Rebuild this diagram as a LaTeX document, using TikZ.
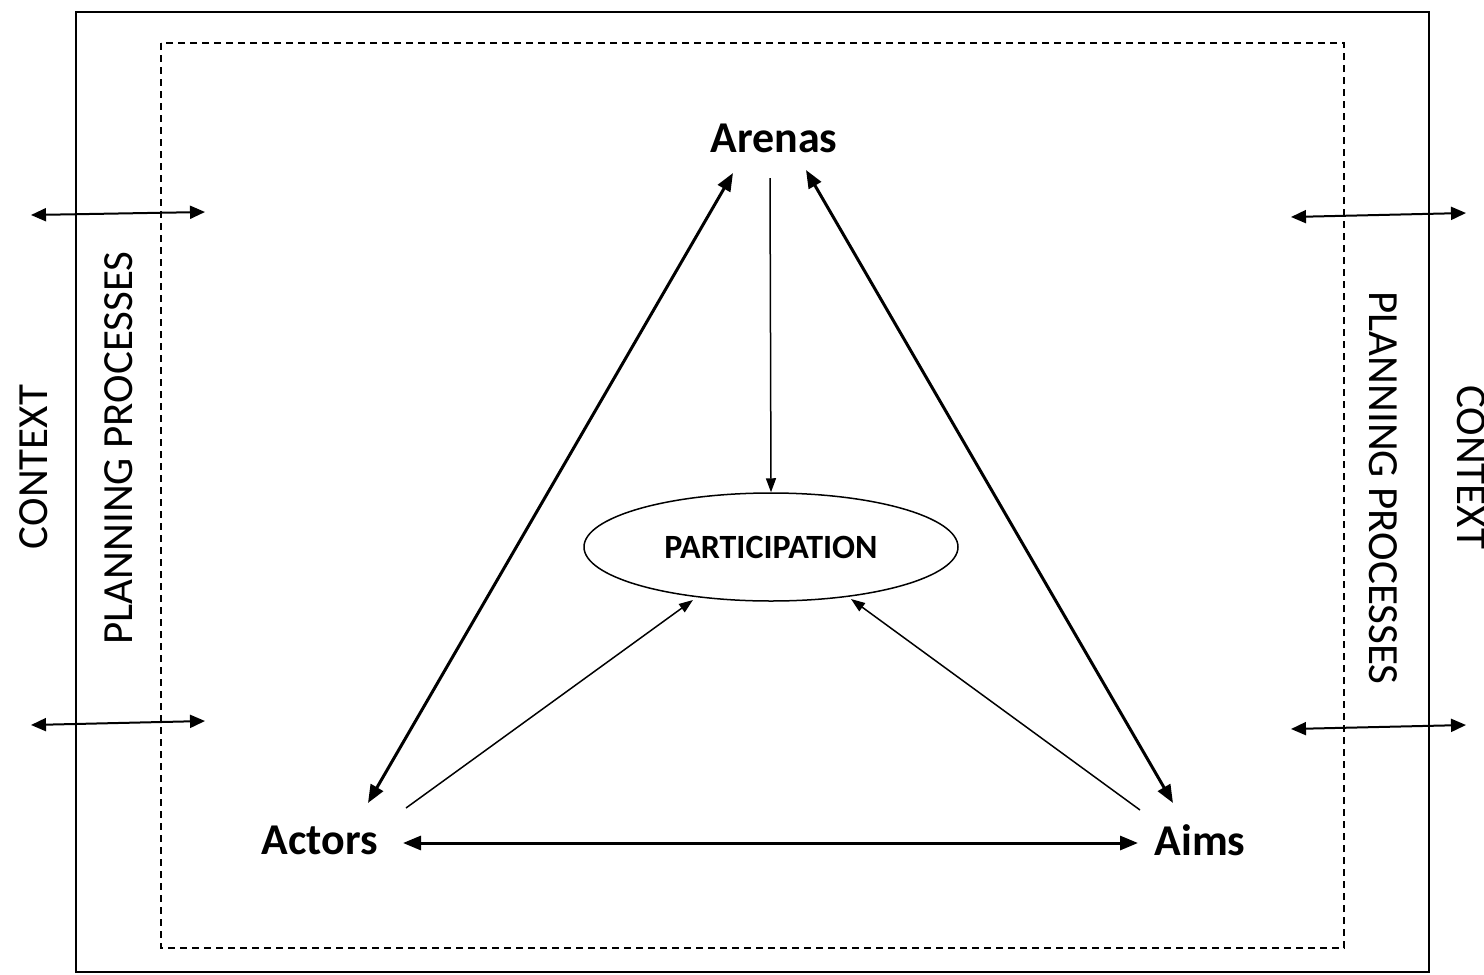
\documentclass[tikz,border=0pt]{standalone}
\usepackage{fontspec}
\setmainfont{Carlito}
\usetikzlibrary{arrows.meta,shapes.geometric,calc}
\tikzset{
  frame/.style={line width=2pt},
  dashframe/.style={line width=1.8pt, dash pattern=on 7pt off 5pt},
  corner/.style={font=\bfseries\fontsize{44}{50}\selectfont, inner sep=0pt},
  sidelabel/.style={font=\fontsize{43}{49}\selectfont, inner sep=0pt},
  bigarrow/.style={line width=3pt, {Triangle[length=18pt,width=14pt]}-{Triangle[length=18pt,width=14pt]}},
  thinarrow/.style={line width=1.5pt, -{Triangle[length=14pt,width=10pt]}},
  sidearrow/.style={line width=2pt, {Triangle[length=15pt,width=13pt]}-{Triangle[length=15pt,width=13pt]}},
}
\begin{document}
\begin{tikzpicture}[x=1pt,y=-1pt]
  \useasboundingbox (0,0) rectangle (1484,975);
  % outer and inner frames
  \draw[frame] (76,12) rectangle (1429,972);
  \draw[dashframe] (161,43) rectangle (1344,948);

  % side labels
  \node[sidelabel, rotate=90] (ctxl) at (34,467) {CONTEXT};
  \node[sidelabel, rotate=90] (ppl) at (119,448) {PLANNING PROCESSES};
  \node[sidelabel, rotate=-90] (ppr) at (1383,488) {PLANNING PROCESSES};
  \node[sidelabel, rotate=-90] (ctxr) at (1471,467) {CONTEXT};

  % exchange arrows across the frames
  \coordinate (la1) at (31,215);  \coordinate (lb1) at (205,212);
  \coordinate (la2) at (31,725);  \coordinate (lb2) at (205,721);
  \coordinate (ra1) at (1291,217); \coordinate (rb1) at (1466,213);
  \coordinate (ra2) at (1291,729); \coordinate (rb2) at (1466,725);
  \draw[sidearrow] (la1) -- (lb1);
  \draw[sidearrow] (la2) -- (lb2);
  \draw[sidearrow] (ra1) -- (rb1);
  \draw[sidearrow] (ra2) -- (rb2);

  % triangle of the three A's
  \node[corner] (arenas) at (774,138) {Arenas};
  \node[corner] (actors) at (320,840) {Actors};
  \node[corner] (aims) at (1200,840) {Aims};
  \node[draw, ellipse, line width=1.5pt, minimum width=374pt, minimum height=108pt,
        inner sep=0pt, font=\bfseries\fontsize{34}{40}\selectfont] (part) at (771,547) {PARTICIPATION};

  \draw[bigarrow] ($(actors)+(48,-37)$) -- ($(arenas)+(-41,35)$);
  \draw[bigarrow] ($(arenas)+(32,32)$) -- ($(aims)+(-27,-37)$);
  \draw[bigarrow] ($(actors)+(83,3)$) -- ($(aims)+(-62,3)$);

  \draw[thinarrow] ($(arenas)+(-4,40)$) -- (part.north);
  \draw[thinarrow] ($(actors)+(86,-32)$) -- ($(part)+(-78,53)$);
  \draw[thinarrow] ($(aims)+(-60,-30)$) -- ($(part)+(80,52)$);
\end{tikzpicture}
\end{document}
